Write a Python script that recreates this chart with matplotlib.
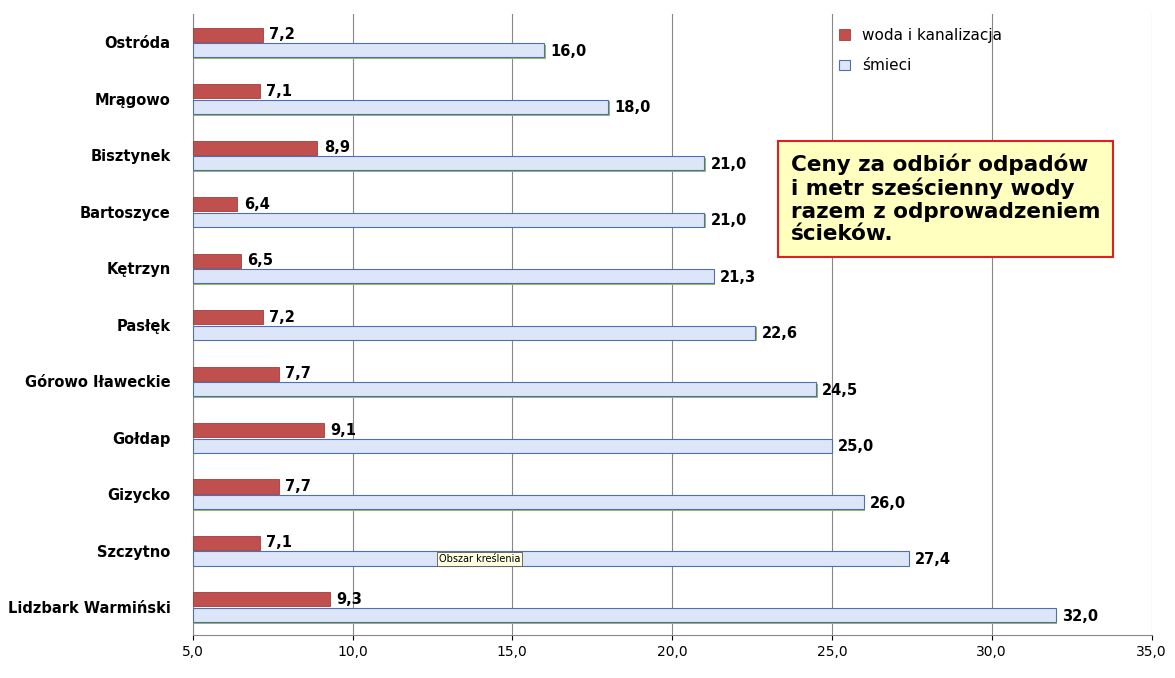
import numpy as np
import matplotlib.pyplot as plt

miasta = ["Ostróda", "Mrągowo", "Bisztynek", "Bartoszyce", "Kętrzyn", "Pasłęk",
          "Górowo Iławeckie", "Gołdap", "Gizycko", "Szczytno", "Lidzbark Warmiński"]
woda = [7.2, 7.1, 8.9, 6.4, 6.5, 7.2, 7.7, 9.1, 7.7, 7.1, 9.3]
smieci = [16.0, 18.0, 21.0, 21.0, 21.3, 22.6, 24.5, 25.0, 26.0, 27.4, 32.0]
x_ticks = [5, 10, 15, 20, 25, 30, 35]

base = 5.0
y = np.arange(len(miasta))
h = 0.25

fig = plt.figure(figsize=(11.75, 6.78), dpi=100)
ax = fig.add_axes([0.164, 0.063, 0.816, 0.916])

ax.barh(y - 0.135, np.array(woda) - base, left=base, height=h,
        color="#c0504d", edgecolor="#a03c3a", linewidth=0.6, label="woda i kanalizacja", zorder=3)
# cien pod paskami
ax.barh(y + 0.14 + 0.03, np.array(smieci) - base, left=base + 0.05, height=h,
        color="#9bbb59", linewidth=0, zorder=2)
ax.barh(y + 0.14, np.array(smieci) - base, left=base, height=h,
        color="#dce6f8", edgecolor="#4f6fb0", linewidth=0.8, label="śmieci", zorder=3)

for i in range(len(miasta)):
    ax.text(woda[i] + 0.2, y[i] - 0.135, f"{woda[i]:.1f}".replace(".", ","),
            va="center", ha="left", fontsize=10.5, fontweight="bold")
    ax.text(smieci[i] + 0.2, y[i] + 0.16, f"{smieci[i]:.1f}".replace(".", ","),
            va="center", ha="left", fontsize=10.5, fontweight="bold")

ax.set_xlim(5, 35)
ax.set_ylim(len(miasta) - 0.5, -0.5)
ax.set_xticks(x_ticks)
ax.set_xticklabels([f"{v:.1f}".replace(".", ",") for v in x_ticks], fontsize=10)
ax.set_yticks(y)
ax.set_yticklabels(miasta, fontsize=10.5, fontweight="bold")
ax.tick_params(axis="y", length=0, pad=16)
ax.grid(axis="x", color="#888888", linewidth=0.8, zorder=0)
for s in ["top", "right"]:
    ax.spines[s].set_visible(False)
ax.spines["left"].set_color("#888888")
ax.spines["bottom"].set_color("#888888")

ax.legend(loc="upper left", bbox_to_anchor=(0.66, 1.0), frameon=False, fontsize=11,
          handlelength=0.7, handleheight=0.7, labelspacing=1.0)

fig.text(0.673, 0.64, "Ceny za odbiór odpadów\ni metr sześcienny wody\nrazem z odprowadzeniem\nścieków.",
         fontsize=15.5, fontweight="bold", va="bottom", ha="left", linespacing=1.15,
         bbox=dict(boxstyle="square,pad=0.6", facecolor="#ffffc0", edgecolor="#e02020", linewidth=1.5))

ax.text(12.7, 9.15, "Obszar kreślenia", fontsize=7, va="center", zorder=5,
        bbox=dict(boxstyle="square,pad=0.2", facecolor="#ffffe1", edgecolor="#555555", linewidth=0.6))

fig.savefig("out.png", dpi=100)
